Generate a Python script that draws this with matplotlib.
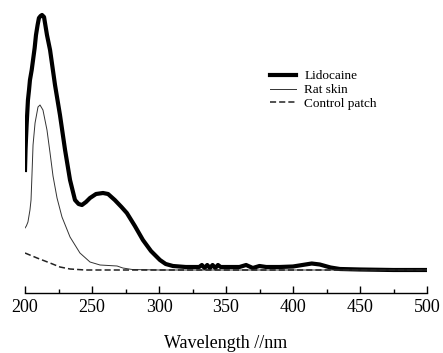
import matplotlib
matplotlib.use("Agg")
import matplotlib.pyplot as plt

# Wavelength (nm) and absorbance-like values
lido_wl = [200, 200.4, 200.7, 201.2, 201.6, 202.2, 203.0, 203.7, 205.0, 206.0, 207.2, 208.2, 209.4, 210.4,
           211.6, 212.7, 214.2, 216.4, 218.7, 222.4, 226.1, 229.9, 233.6, 237.3, 240.0, 242.5,
           245.5, 248.5, 253.0, 258.2, 262.0, 267.0, 272.0, 276.0, 282.0, 288.0, 294.0,
           300.7, 305.0, 310.4, 320.0, 330.0, 332.0, 334.0, 336.0, 338.0, 340.0, 342.0,
           344.0, 346.0, 350.0, 360.0, 365.0, 370.0, 375.0, 380.0, 390.0, 400.0, 407.0,
           414.0, 420.0, 428.0, 435.0, 450.0, 475.0, 500.0]
lido_val = [1.00, 1.20, 1.30, 1.45, 1.55, 1.70, 1.80, 1.90, 2.00, 2.10, 2.22, 2.35, 2.45, 2.52,
            2.54, 2.55, 2.53, 2.35, 2.20, 1.85, 1.55, 1.20, 0.90, 0.70, 0.66, 0.65,
            0.68, 0.72, 0.76, 0.77, 0.76, 0.70, 0.63, 0.57, 0.44, 0.30, 0.19,
            0.10, 0.06, 0.04, 0.03, 0.03, 0.05, 0.02, 0.05, 0.02, 0.05, 0.02,
            0.05, 0.03, 0.03, 0.03, 0.05, 0.02, 0.04, 0.03, 0.03, 0.035, 0.05,
            0.065, 0.055, 0.025, 0.01, 0.005, 0.0, 0.0]

rat_wl = [200, 201.0, 202.2, 203.7, 204.5, 205.2, 206.0, 207.5, 209.7, 211.2, 213.4, 216.4,
          218.7, 220.9, 223.9, 227.6, 233.6, 241.0, 248.5, 256.0, 268.7, 273.0, 280.0,
          300.0, 350.0, 400.0, 450.0, 500.0]
rat_val = [0.42, 0.44, 0.48, 0.60, 0.70, 0.95, 1.25, 1.47, 1.63, 1.65, 1.60, 1.40,
           1.17, 0.94, 0.72, 0.53, 0.33, 0.17, 0.08, 0.05, 0.04, 0.02, 0.005,
           0.0, 0.0, 0.0, 0.0, 0.0]

ctrl_wl = [200, 209.0, 218.7, 226.1, 233.6, 245.0, 260.0, 300.0, 400.0, 500.0]
ctrl_val = [0.17, 0.12, 0.07, 0.03, 0.01, 0.0, 0.0, 0.0, 0.0, 0.0]

labels = ["Lidocaine", "Rat skin", "Control patch"]
xticks = [200, 250, 300, 350, 400, 450, 500]

plt.rcParams['font.family'] = ['Liberation Serif', 'DejaVu Serif']

fig = plt.figure(figsize=(4.43, 3.53), dpi=100)
ax = fig.add_axes([25/443, 60/353, 402/443, 288/353])

ax.plot(lido_wl, lido_val, color='black', lw=3.0, label=labels[0], solid_joinstyle='round')
ax.plot(rat_wl, rat_val, color='#333333', lw=0.7, label=labels[1])
ax.plot(ctrl_wl, ctrl_val, color='#222222', lw=1.1, dashes=(4, 2), label=labels[2])

ax.set_xlim(200, 500)
ax.set_ylim(-0.23, 2.65)
ax.set_xticks(xticks)
ax.set_xticks(range(225, 500, 50), minor=True)
ax.tick_params(axis='x', which='major', direction='in', length=5, width=1, labelsize=13, pad=4)
ax.tick_params(axis='x', which='minor', direction='in', length=3, width=1)
ax.set_yticks([])
for s in ['left', 'top', 'right']:
    ax.spines[s].set_visible(False)
ax.spines['bottom'].set_linewidth(1)
ax.set_xlabel("Wavelength //nm", fontsize=13, labelpad=14)

leg = ax.legend(loc='upper left', bbox_to_anchor=(0.58, 0.815), frameon=False, fontsize=9.5,
                handlelength=2.0, labelspacing=0.12, handletextpad=0.6)

fig.savefig("out.png", dpi=100)
